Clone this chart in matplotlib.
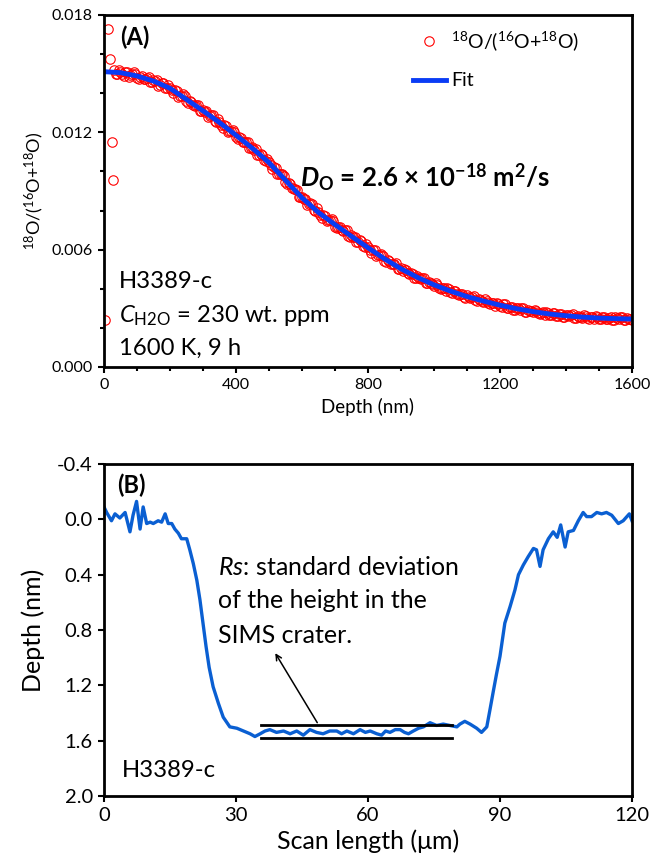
import numpy as np
import matplotlib
matplotlib.use('Agg')
import matplotlib.pyplot as plt
from matplotlib.ticker import MultipleLocator, FormatStrFormatter

plt.rcParams['font.family'] = ['Lato', 'DejaVu Sans']
plt.rcParams['mathtext.fontset'] = 'custom'
plt.rcParams['mathtext.rm'] = 'Lato'
plt.rcParams['mathtext.it'] = 'Lato:italic'
plt.rcParams['mathtext.bf'] = 'Lato:bold:italic'

# (A) 18O diffusion profile
outlier_depth = [3, 12, 18, 24, 28]
outlier_ratio = [0.0024, 0.0173, 0.01575, 0.0115, 0.00956]

depth = np.arange(30, 1601, 10)
ratio = [
    0.01519, 0.01498, 0.01509, 0.01488, 0.01507, 0.01492, 0.01506, 0.01478, 0.01485, 0.01472,
    0.01479, 0.01455, 0.01467, 0.01466, 0.01443, 0.01452, 0.01424, 0.01429, 0.01400, 0.01411,
    0.01388, 0.01394, 0.01358, 0.01358, 0.01339, 0.01340, 0.01310, 0.01315, 0.01309, 0.01282,
    0.01286, 0.01254, 0.01254, 0.01223, 0.01233, 0.01208, 0.01213, 0.01175, 0.01174, 0.01152,
    0.01152, 0.01119, 0.01123, 0.01114, 0.01085, 0.01086, 0.01052, 0.01049, 0.01013, 0.01018,
    0.00988, 0.00988, 0.00945, 0.00939, 0.00913, 0.00908, 0.00871, 0.00870, 0.00861, 0.00831,
    0.00832, 0.00797, 0.00794, 0.00764, 0.00774, 0.00750, 0.00755, 0.00718, 0.00718, 0.00698,
    0.00699, 0.00668, 0.00673, 0.00667, 0.00641, 0.00645, 0.00614, 0.00614, 0.00585, 0.00596,
    0.00573, 0.00579, 0.00543, 0.00545, 0.00527, 0.00529, 0.00500, 0.00507, 0.00501, 0.00478,
    0.00479, 0.00457, 0.00464, 0.00448, 0.00453, 0.00428, 0.00429, 0.00416, 0.00419, 0.00399,
    0.00404, 0.00402, 0.00385, 0.00390, 0.00371, 0.00374, 0.00356, 0.00366, 0.00353, 0.00361,
    0.00339, 0.00343, 0.00333, 0.00338, 0.00321, 0.00327, 0.00328, 0.00313, 0.00320, 0.00303,
    0.00308, 0.00292, 0.00304, 0.00293, 0.00302, 0.00282, 0.00287, 0.00279, 0.00286, 0.00270,
    0.00279, 0.00281, 0.00268, 0.00277, 0.00261, 0.00269, 0.00254, 0.00268, 0.00259, 0.00269,
    0.00251, 0.00257, 0.00251, 0.00259, 0.00245, 0.00255, 0.00259, 0.00247, 0.00257, 0.00243,
    0.00251, 0.00238, 0.00253, 0.00245, 0.00256, 0.00239, 0.00246, 0.00241,
]

# in-between measurements (the profile is sampled every ~5 nm)
depth_b = np.arange(35, 1596, 10)
ratio_b = [
    0.01498, 0.01519, 0.01499, 0.01507, 0.01482, 0.01496, 0.01500, 0.01475, 0.01487, 0.01473,
    0.01484, 0.01458, 0.01460, 0.01438, 0.01452, 0.01427, 0.01442, 0.01415, 0.01415, 0.01382,
    0.01388, 0.01384, 0.01351, 0.01357, 0.01337, 0.01342, 0.01309, 0.01305, 0.01279, 0.01288,
    0.01259, 0.01269, 0.01239, 0.01238, 0.01203, 0.01208, 0.01202, 0.01168, 0.01171, 0.01150,
    0.01152, 0.01118, 0.01112, 0.01083, 0.01090, 0.01058, 0.01066, 0.01031, 0.01025, 0.00985,
    0.00985, 0.00974, 0.00935, 0.00934, 0.00908, 0.00906, 0.00867, 0.00859, 0.00830, 0.00836,
    0.00804, 0.00811, 0.00779, 0.00779, 0.00744, 0.00750, 0.00744, 0.00711, 0.00716, 0.00696,
    0.00700, 0.00667, 0.00663, 0.00638, 0.00647, 0.00619, 0.00629, 0.00600, 0.00600, 0.00567,
    0.00573, 0.00569, 0.00537, 0.00544, 0.00526, 0.00531, 0.00500, 0.00492, 0.00498, 0.00476,
    0.00477, 0.00453, 0.00456, 0.00454, 0.00431, 0.00436, 0.00423, 0.00427, 0.00406, 0.00405,
    0.00389, 0.00397, 0.00379, 0.00389, 0.00370, 0.00374, 0.00353, 0.00360, 0.00360, 0.00341,
    0.00348, 0.00339, 0.00345, 0.00326, 0.00328, 0.00313, 0.00324, 0.00308, 0.00320, 0.00303,
    0.00309, 0.00290, 0.00299, 0.00301, 0.00283, 0.00292, 0.00284, 0.00292, 0.00275, 0.00278,
    0.00266, 0.00278, 0.00264, 0.00277, 0.00263, 0.00270, 0.00253, 0.00264, 0.00267, 0.00251,
    0.00261, 0.00255, 0.00265, 0.00249, 0.00254, 0.00243, 0.00257, 0.00244, 0.00258, 0.00245,
    0.00253, 0.00238, 0.00249, 0.00254, 0.00238, 0.00250, 0.00245,
]

fit_depth = np.arange(0, 1601, 50)
fit_ratio = [
    0.01510, 0.01505, 0.01488, 0.01462, 0.01425, 0.01368, 0.01310, 0.01250, 0.01185,
    0.01118, 0.01045, 0.00955, 0.00865, 0.00790, 0.00728, 0.00668, 0.00610, 0.00553,
    0.00502, 0.00458, 0.00420, 0.00388, 0.00360, 0.00337, 0.00316, 0.00298, 0.00283,
    0.00271, 0.00262, 0.00255, 0.00250, 0.00247, 0.00245,
]

# (B) crater profile
scan_x = [
    0.0, 0.6, 1.7, 2.5, 3.6, 4.8, 5.9, 6.6, 7.4, 8.2, 8.9, 9.7, 10.5, 11.2, 12.3, 13.1,
    13.9, 14.6, 15.4, 16.1, 16.9, 17.6, 18.8, 19.5, 20.3, 21.1, 21.8, 22.5, 23.2, 23.9,
    24.8, 26.0, 27.1, 28.6, 30.2, 31.7, 33.2, 34.3, 35.5, 36.6, 37.7, 39.2, 40.8, 42.3,
    43.8, 45.3, 46.8, 48.3, 49.8, 51.3, 52.9, 54.0, 55.2, 56.7, 58.2, 59.4, 60.5, 62.0,
    63.1, 64.0, 65.0, 66.2, 67.3, 68.3, 69.2, 70.3, 71.5, 72.6, 74.1, 75.6, 77.1, 78.6,
    80.2, 80.9, 82.0, 83.2, 84.7, 85.8, 87.0, 87.7, 88.5, 89.2, 90.0, 91.1, 92.3, 93.4,
    94.2, 95.3, 96.4, 97.6, 98.3, 99.1, 99.8, 101.0, 102.1, 103.0, 103.8, 104.8, 105.5,
    106.7, 107.8, 108.9, 109.7, 110.8, 112.0, 113.1, 114.2, 115.4, 116.9, 118.0, 119.4, 120.0,
]
scan_depth = [
    -0.09, -0.05, 0.01, -0.04, -0.01, -0.05, 0.09, -0.03, -0.13, 0.07, -0.09, 0.03, 0.02, 0.03, 0.01, 0.02,
    -0.04, 0.03, 0.03, 0.07, 0.10, 0.14, 0.14, 0.22, 0.32, 0.44, 0.58, 0.75, 0.92, 1.07,
    1.21, 1.33, 1.43, 1.50, 1.51, 1.53, 1.55, 1.57, 1.55, 1.53, 1.52, 1.54, 1.53, 1.55,
    1.53, 1.56, 1.52, 1.54, 1.55, 1.53, 1.53, 1.55, 1.53, 1.55, 1.52, 1.54, 1.53, 1.55,
    1.56, 1.53, 1.54, 1.52, 1.52, 1.54, 1.55, 1.53, 1.51, 1.50, 1.47, 1.49, 1.48, 1.49,
    1.50, 1.48, 1.46, 1.48, 1.51, 1.54, 1.50, 1.38, 1.24, 1.12, 0.99, 0.75, 0.63, 0.51,
    0.40, 0.33, 0.27, 0.21, 0.22, 0.34, 0.22, 0.14, 0.09, 0.13, 0.04, 0.20, 0.09,
    0.08, 0.01, -0.05, -0.02, -0.02, -0.05, -0.04, -0.05, -0.03, 0.03, 0.01, -0.04, 0.01,
]

rs_x = [35.6, 79.1]
rs_top = 1.487
rs_bottom = 1.583

fig = plt.figure(figsize=(6.52, 8.6), dpi=100)
ax1 = fig.add_axes([0.1595, 0.5733, 0.8098, 0.4093])
ax2 = fig.add_axes([0.1595, 0.0744, 0.8098, 0.3860])

label_18 = r'$^{\mathdefault{18}}$O/($^{\mathdefault{16}}$O+$^{\mathdefault{18}}$O)'
marker_kw = dict(ls='none', marker='o', ms=6.8, mfc='none', mec='#ff0000', mew=0.8)

ax1.plot(outlier_depth, outlier_ratio, **marker_kw)
ax1.plot(depth_b, ratio_b, **marker_kw)
ax1.plot(depth, ratio, label=label_18, **marker_kw)
ax1.plot(fit_depth, fit_ratio, color='#0a3cf5', lw=3.5, label='Fit')

ax1.set_xlim(0, 1600)
ax1.set_ylim(0, 0.018)
ax1.xaxis.set_major_locator(MultipleLocator(400))
ax1.xaxis.set_minor_locator(MultipleLocator(100))
ax1.yaxis.set_major_locator(MultipleLocator(0.006))
ax1.yaxis.set_minor_locator(MultipleLocator(0.002))
ax1.yaxis.set_major_formatter(FormatStrFormatter('%.3f'))
ax1.tick_params(which='both', direction='out', width=1.5, labelsize=11.5)
ax1.tick_params(which='major', length=4.5)
ax1.tick_params(which='minor', length=3)
ax1.set_xlabel('Depth (nm)', fontsize=13.5, labelpad=4)
ax1.set_ylabel(label_18, fontsize=13)

ax1.legend(loc='upper left', bbox_to_anchor=(0.585, 0.96), frameon=False,
           fontsize=14, handlelength=1.7, handletextpad=0.25, labelspacing=1.0,
           borderpad=0, borderaxespad=0, numpoints=1)

ax1.text(48, 0.01647, '(A)', fontsize=17, fontweight='bold')
ax1.text(594, 0.00922, r'$\mathbf{D}_{\mathdefault{O}}$ = 2.6 × 10$^{\mathdefault{-18}}$ m$^{\mathdefault{2}}$/s',
         fontsize=18.5, fontweight='bold')
ax1.text(45, 0.00404, 'H3389-c', fontsize=17.2)
ax1.text(45, 0.00232, r'$C_{\mathdefault{H2O}}$ = 230 wt. ppm', fontsize=17.2)
ax1.text(45, 0.00061, '1600 K, 9 h', fontsize=17.2)

ax2.plot(scan_x, scan_depth, color='#0a5fd2', lw=2.4)
ax2.plot(rs_x, [rs_top, rs_top], color='black', lw=2)
ax2.plot(rs_x, [rs_bottom, rs_bottom], color='black', lw=2)
ax2.annotate('', xy=(38.6, 0.95), xytext=(48.8, rs_top),
             arrowprops=dict(arrowstyle='->', color='black', lw=1.1))

ax2.set_xlim(0, 120)
ax2.set_ylim(2.0, -0.4)
ax2.xaxis.set_major_locator(MultipleLocator(30))
ax2.yaxis.set_major_locator(MultipleLocator(0.4))
ax2.yaxis.set_major_formatter(FormatStrFormatter('%.1f'))
ax2.tick_params(which='both', direction='out', width=1.5, length=4.5, labelsize=14.5)
ax2.set_xlabel('Scan length (μm)', fontsize=18, labelpad=4)
ax2.set_ylabel('Depth (nm)', fontsize=18, labelpad=9)

ax2.text(2.9, -0.19, '(B)', fontsize=17, fontweight='bold')
ax2.text(26.0, 0.403, r'$Rs$: standard deviation', fontsize=18)
ax2.text(26.0, 0.641, 'of the height in the', fontsize=18)
ax2.text(26.0, 0.894, 'SIMS crater.', fontsize=18)
ax2.text(4.1, 1.861, 'H3389-c', fontsize=17.2)

for ax in (ax1, ax2):
    for sp in ax.spines.values():
        sp.set_linewidth(2)

fig.savefig('out.png', dpi=100)
